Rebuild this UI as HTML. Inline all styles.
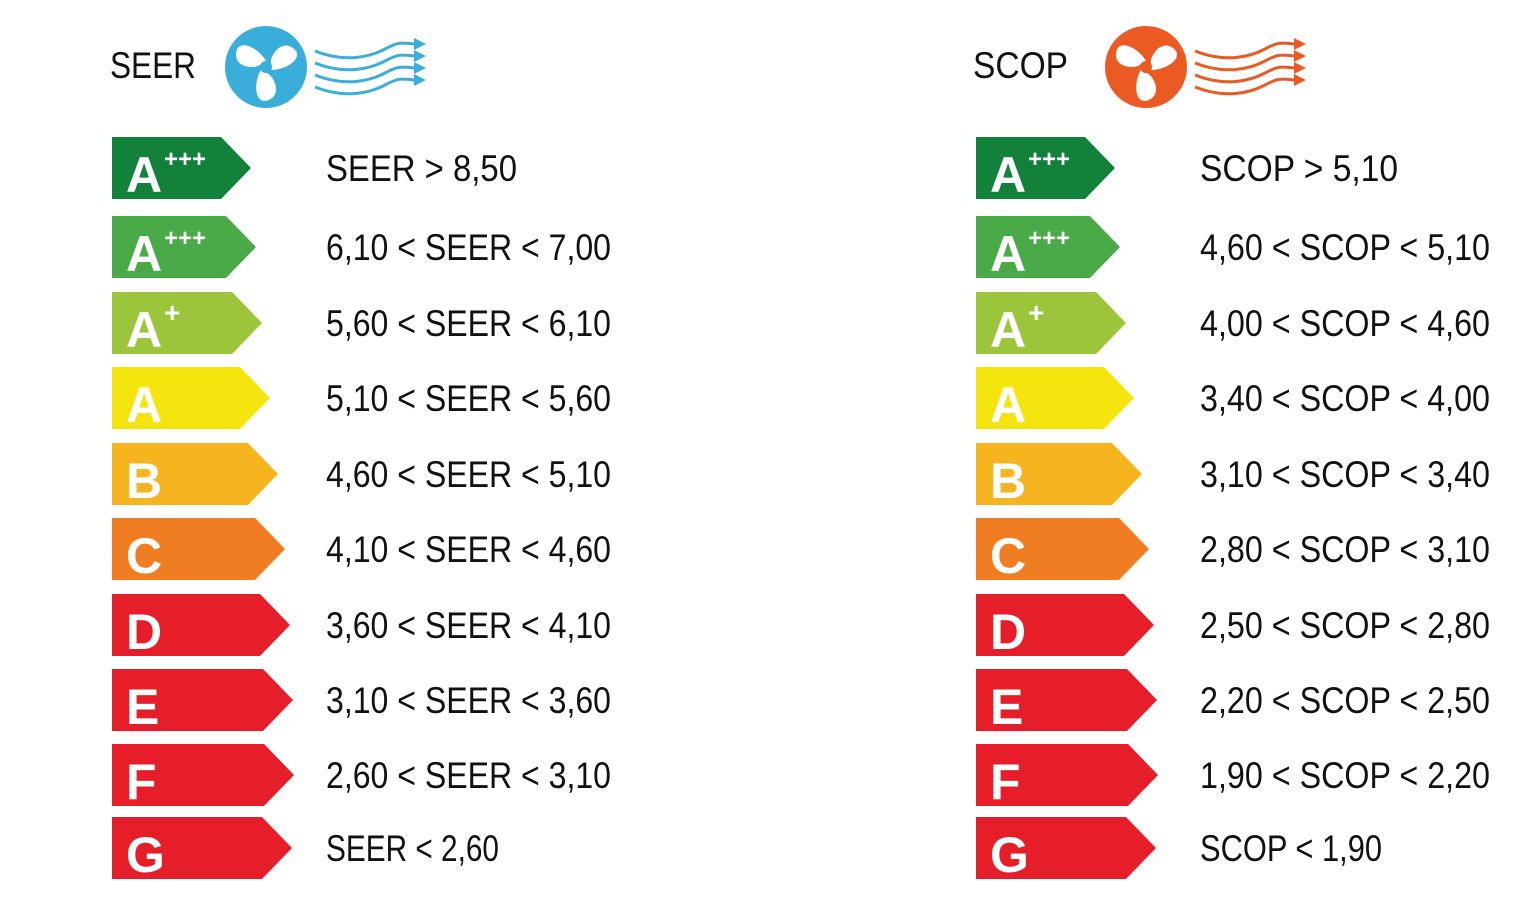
<!DOCTYPE html>
<html><head><meta charset="utf-8"><style>
html,body{margin:0;padding:0;background:#fff;}
svg{display:block}
</style></head><body>
<svg id="s" width="1536" height="901" xmlns="http://www.w3.org/2000/svg" font-family="Liberation Sans, sans-serif"></svg>
<script>
const rows=[
 {t:137,tip:251,c:'#12823b',l:'A',sup:'+++'},
 {t:216,tip:256,c:'#4aaa48',l:'A',sup:'+++'},
 {t:292,tip:262,c:'#9cc53b',l:'A',sup:'+'},
 {t:367,tip:270,c:'#f5e50f',l:'A'},
 {t:443,tip:278,c:'#f6b51e',l:'B'},
 {t:518,tip:285,c:'#f07d22',l:'C'},
 {t:594,tip:290,c:'#e61e2a',l:'D'},
 {t:669,tip:293,c:'#e61e2a',l:'E'},
 {t:744,tip:294,c:'#e61e2a',l:'F'},
 {t:817,tip:292,c:'#e61e2a',l:'G'}];
const seer=[['SEER > 8,50',191],['6,10 < SEER < 7,00',285],['5,60 < SEER < 6,10',285],['5,10 < SEER < 5,60',285],['4,60 < SEER < 5,10',285],['4,10 < SEER < 4,60',285],['3,60 < SEER < 4,10',285],['3,10 < SEER < 3,60',285],['2,60 < SEER < 3,10',285],['SEER < 2,60',173]];
const scop=[['SCOP > 5,10',198],['4,60 < SCOP < 5,10',290],['4,00 < SCOP < 4,60',290],['3,40 < SCOP < 4,00',290],['3,10 < SCOP < 3,40',290],['2,80 < SCOP < 3,10',290],['2,50 < SCOP < 2,80',290],['2,20 < SCOP < 2,50',290],['1,90 < SCOP < 2,20',290],['SCOP < 1,90',182]];
let h='';
function esc(s){return s.replace(/</g,'&lt;').replace(/>/g,'&gt;');}
function fan(cx,cy,col){
 let g=`<circle cx="${cx}" cy="${cy}" r="41" fill="${col}"/>`;
 for(let k=0;k<3;k++){
  g+=`<path transform="rotate(${k*120} ${cx} ${cy})" d="M${cx} ${cy-6} C${cx-8} ${cy-20} ${cx-30} ${cy-30} ${cx-30} ${cy-12} C${cx-30} ${cy-2} ${cx-18} ${cy+2} ${cx-8} ${cy-1} Z" fill="#fff"/>`;
 }
 g+=`<circle cx="${cx}" cy="${cy}" r="6" fill="${col}"/>`;
 for(let i=0;i<4;i++){
  const y=cy-16+i*12, x0=cx+49, x1=cx+150;
  g+=`<path d="M${x0} ${y} C${x0+30} ${y+12} ${x0+55} ${y+6} ${x0+70} ${y-2} C${x0+85} ${y-10} ${x1-15} ${y-8} ${x1} ${y-7}" stroke="${col}" stroke-width="3" fill="none"/>`;
  g+=`<polygon points="${x1-2},${y-13} ${x1+10},${y-7} ${x1-2},${y-1}" fill="${col}"/>`;
 }
 return g;
}
function side(dx,labels,tx){
 rows.forEach((r,i)=>{
  const x=112+dx,t=r.t,b=t+62,tip=r.tip+dx,m=t+31;
  h+=`<polygon points="${x},${t} ${tip-30},${t} ${tip},${m} ${tip-30},${b} ${x},${b}" fill="${r.c}"/>`;
  h+=`<text x="${x+14}" y="${t+55}" font-size="50" font-weight="bold" fill="#fff">${r.l}</text>`;
  if(r.sup) h+=`<text x="${x+52}" y="${t+30}" font-size="${r.sup.length>1?24:28}" font-weight="bold" fill="#fff">${r.sup}</text>`;
  h+=`<text x="${tx}" y="${t+44}" font-size="37" fill="#111" textLength="${labels[i][1]}" lengthAdjust="spacingAndGlyphs">${esc(labels[i][0])}</text>`;
 });
}
h+=`<text x="110" y="78" font-size="37" fill="#111" textLength="86" lengthAdjust="spacingAndGlyphs">SEER</text>`;
h+=`<text x="973" y="78" font-size="37" fill="#111" textLength="95" lengthAdjust="spacingAndGlyphs">SCOP</text>`;
h+=fan(266,67,'#3aaedb');
h+=fan(1146,67,'#ec5a24');
side(0,seer,326);
side(864,scop,1200);
document.getElementById('s').innerHTML=h;
</script>
</body></html>
